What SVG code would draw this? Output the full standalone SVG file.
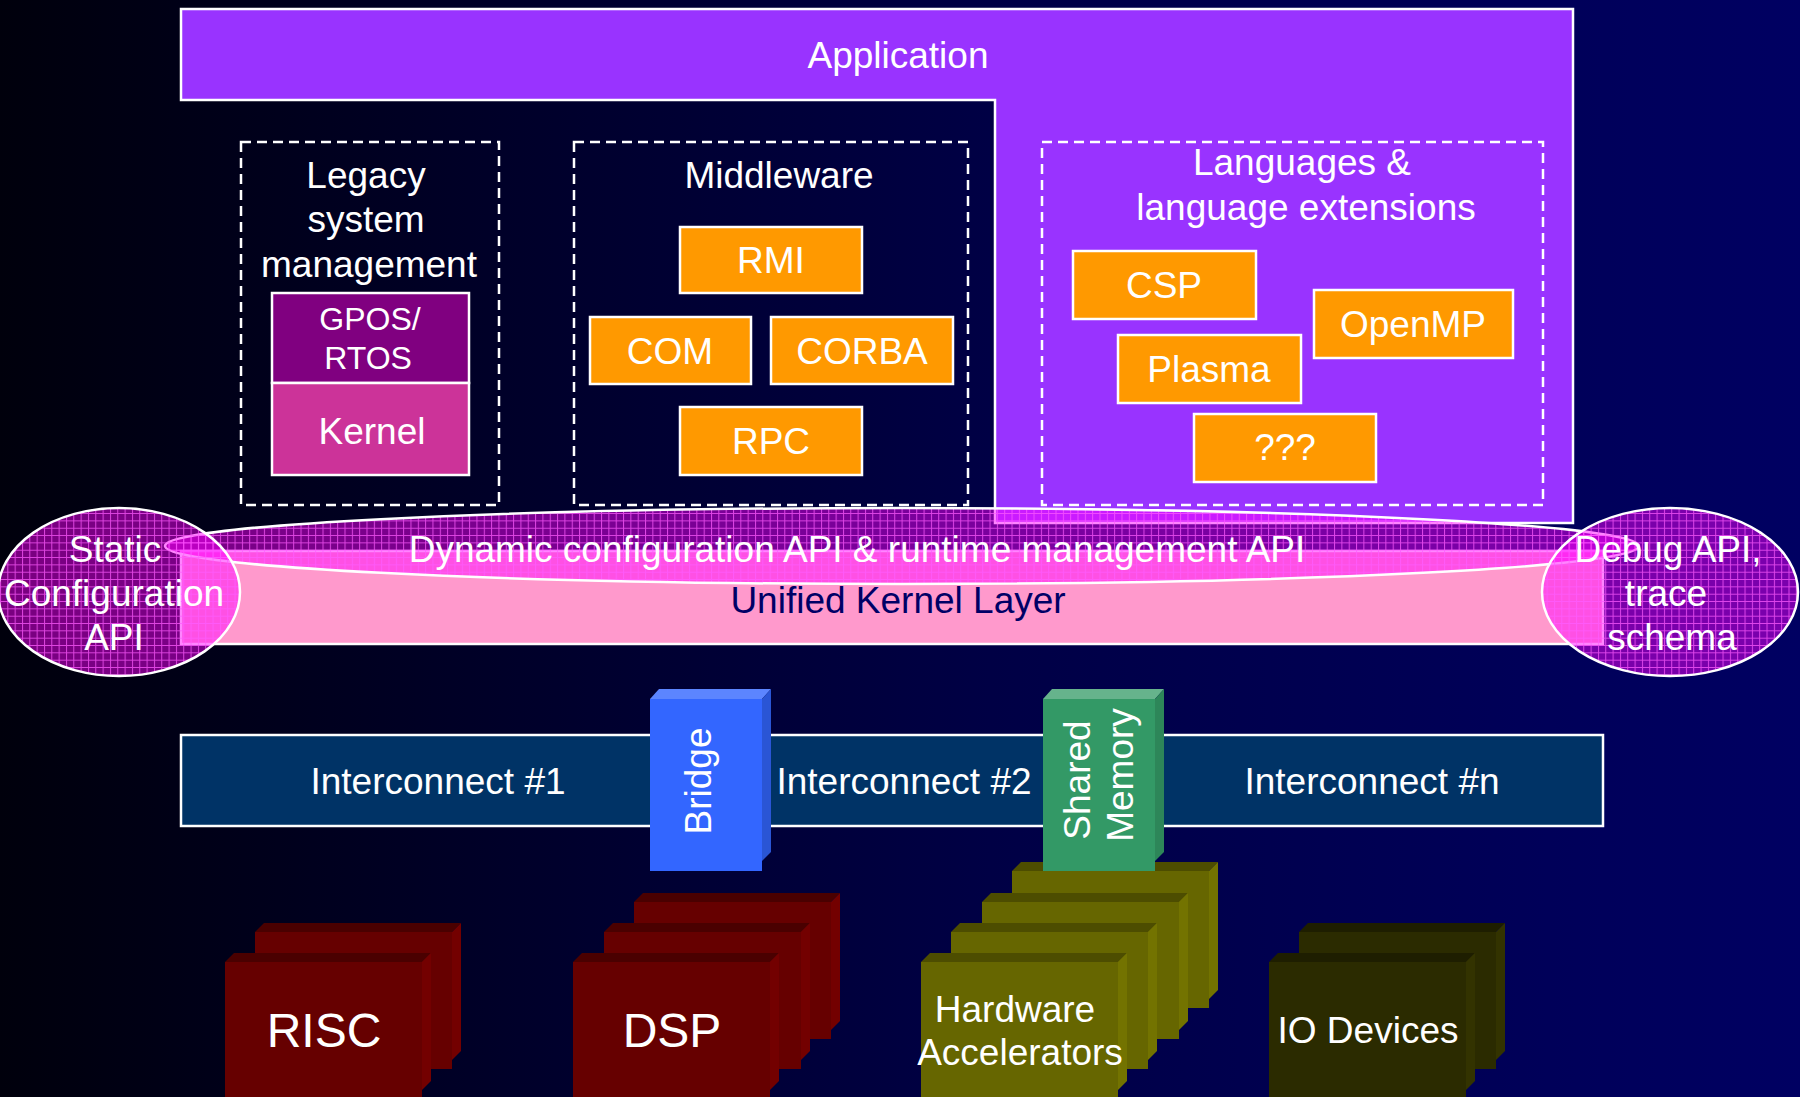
<svg xmlns="http://www.w3.org/2000/svg" width="1800" height="1097" viewBox="0 0 1800 1097">
  <defs>
    <linearGradient id="bg" x1="0" y1="0" x2="1" y2="0">
      <stop offset="0" stop-color="#00000c"/>
      <stop offset="0.55" stop-color="#000045"/>
      <stop offset="1" stop-color="#000062"/>
    </linearGradient>
    <!-- translucent magenta plaid used by the API discs -->
    <pattern id="plaid" width="7.33" height="7.33" patternUnits="userSpaceOnUse">
      <rect width="7.33" height="7.33" fill="#ff00ff" fill-opacity="0.48"/>
      <path d="M0 0.5H7.33M0.5 0V7.33" stroke="#ff5cff" stroke-width="1" stroke-opacity="0.75"/>
    </pattern>
    <style>
      .t { font-family: "Liberation Sans", Arial, sans-serif; font-size: 37px; fill: #ffffff; text-anchor: middle; }
      .sm { font-size: 32px; }
      .big { font-size: 48px; }
      .navy { fill: #000066; }
      .edge { stroke: #ffffff; stroke-width: 2.5; }
      .dash { fill: none; stroke: #ffffff; stroke-width: 2.5; stroke-dasharray: 10 6; }
      .orange { fill: #ff9900; }
      .disc { fill: url(#plaid); stroke: #ffffff; stroke-width: 2.5; }
      .red .f { fill: #660000; } .red .p { fill: #4a0000; } .red .s { fill: #730000; }
      .olive .f { fill: #666600; } .olive .p { fill: #4d4d00; } .olive .s { fill: #737300; }
      .dark .f { fill: #2b2b00; } .dark .p { fill: #1e1e00; } .dark .s { fill: #333300; }
    </style>
  </defs>

  <rect width="1800" height="1097" fill="url(#bg)"/>

  <!-- Application layer (L-shaped) -->
  <g id="application">
    <path class="edge" d="M181 9H1573V523H995V100H181Z" fill="#9933ff"/>
    <text class="t" x="898" y="68">Application</text>
  </g>

  <!-- Legacy system management -->
  <g id="legacy">
    <rect class="dash" x="241" y="142" width="258" height="363"/>
    <text class="t" x="366" y="188">Legacy</text>
    <text class="t" x="366" y="232">system</text>
    <text class="t" x="369" y="277">management</text>
  </g>
  <g id="gpos">
    <rect class="edge" x="272" y="293" width="197" height="90" fill="#800080"/>
    <text class="t sm" x="370" y="330">GPOS/</text>
    <text class="t sm" x="368" y="369">RTOS</text>
  </g>
  <g id="kernel">
    <rect class="edge" x="272" y="383" width="197" height="92" fill="#cc3399"/>
    <text class="t" x="372" y="444">Kernel</text>
  </g>

  <!-- Middleware -->
  <g id="middleware">
    <rect class="dash" x="574" y="142" width="394" height="363"/>
    <text class="t" x="779" y="188">Middleware</text>
  </g>
  <g id="rmi">
    <rect class="edge orange" x="680" y="227" width="182" height="66"/>
    <text class="t" x="771" y="273">RMI</text>
  </g>
  <g id="com">
    <rect class="edge orange" x="590" y="317" width="161" height="67"/>
    <text class="t" x="670" y="364">COM</text>
  </g>
  <g id="corba">
    <rect class="edge orange" x="771" y="317" width="182" height="67"/>
    <text class="t" x="862" y="364">CORBA</text>
  </g>
  <g id="rpc">
    <rect class="edge orange" x="680" y="407" width="182" height="68"/>
    <text class="t" x="771" y="454">RPC</text>
  </g>

  <!-- Languages & language extensions -->
  <g id="languages">
    <rect class="dash" x="1042" y="142" width="501" height="363"/>
    <text class="t" x="1302" y="175">Languages &amp;</text>
    <text class="t" x="1306" y="220">language extensions</text>
  </g>
  <g id="csp">
    <rect class="edge orange" x="1073" y="251" width="183" height="68"/>
    <text class="t" x="1164" y="298">CSP</text>
  </g>
  <g id="openmp">
    <rect class="edge orange" x="1314" y="290" width="199" height="68"/>
    <text class="t" x="1413" y="337">OpenMP</text>
  </g>
  <g id="plasma">
    <rect class="edge orange" x="1118" y="335" width="183" height="68"/>
    <text class="t" x="1209" y="382">Plasma</text>
  </g>
  <g id="unknown">
    <rect class="edge orange" x="1194" y="414" width="182" height="68"/>
    <text class="t" x="1285" y="460">???</text>
  </g>

  <!-- Unified kernel layer with API discs -->
  <g id="unified-kernel">
    <rect class="edge" x="181" y="551" width="1422" height="93" fill="#ff99cc"/>
  </g>
  <g id="dynamic-api">
    <ellipse class="disc" cx="902" cy="546" rx="737" ry="38"/>
  </g>
  <g id="static-api">
    <ellipse class="disc" cx="119" cy="592" rx="121" ry="84"/>
  </g>
  <g id="debug-api">
    <ellipse class="disc" cx="1670" cy="592" rx="128" ry="84"/>
  </g>
  <g id="layer-labels">
    <text class="t" x="857" y="562">Dynamic configuration API &amp; runtime management API</text>
    <text class="t navy" x="898" y="613">Unified Kernel Layer</text>
    <text class="t" x="115" y="562">Static</text>
    <text class="t" x="114" y="606">Configuration</text>
    <text class="t" x="114" y="650">API</text>
    <text class="t" x="1668" y="562">Debug API,</text>
    <text class="t" x="1666" y="606">trace</text>
    <text class="t" x="1672" y="650">schema</text>
  </g>

  <!-- Interconnect bus -->
  <g id="interconnect">
    <rect class="edge" x="181" y="735" width="1422" height="91" fill="#003366"/>
    <text class="t" x="438" y="794">Interconnect #1</text>
    <text class="t" x="904" y="794">Interconnect #2</text>
    <text class="t" x="1372" y="794">Interconnect #n</text>
  </g>

  <!-- Processing elements (stacked blocks) -->
  <g id="risc" class="red">
    <g transform="translate(255,932)"><rect class="f" width="197" height="137"/><path class="p" d="M0 0l9-9h197l-9 9z"/><path class="s" d="M197 0l9-9v128l-9 9z"/></g>
    <g transform="translate(225,962)"><rect class="f" width="197" height="137"/><path class="p" d="M0 0l9-9h197l-9 9z"/><path class="s" d="M197 0l9-9v128l-9 9z"/></g>
    <text class="t big" x="324" y="1047">RISC</text>
  </g>
  <g id="dsp" class="red">
    <g transform="translate(634,902)"><rect class="f" width="197" height="137"/><path class="p" d="M0 0l9-9h197l-9 9z"/><path class="s" d="M197 0l9-9v128l-9 9z"/></g>
    <g transform="translate(604,932)"><rect class="f" width="197" height="137"/><path class="p" d="M0 0l9-9h197l-9 9z"/><path class="s" d="M197 0l9-9v128l-9 9z"/></g>
    <g transform="translate(573,962)"><rect class="f" width="197" height="137"/><path class="p" d="M0 0l9-9h197l-9 9z"/><path class="s" d="M197 0l9-9v128l-9 9z"/></g>
    <text class="t big" x="672" y="1047">DSP</text>
  </g>
  <g id="hw-accelerators" class="olive">
    <g transform="translate(1012,871)"><rect class="f" width="197" height="137"/><path class="p" d="M0 0l9-9h197l-9 9z"/><path class="s" d="M197 0l9-9v128l-9 9z"/></g>
    <g transform="translate(982,902)"><rect class="f" width="197" height="137"/><path class="p" d="M0 0l9-9h197l-9 9z"/><path class="s" d="M197 0l9-9v128l-9 9z"/></g>
    <g transform="translate(951,932)"><rect class="f" width="197" height="137"/><path class="p" d="M0 0l9-9h197l-9 9z"/><path class="s" d="M197 0l9-9v128l-9 9z"/></g>
    <g transform="translate(921,962)"><rect class="f" width="197" height="137"/><path class="p" d="M0 0l9-9h197l-9 9z"/><path class="s" d="M197 0l9-9v128l-9 9z"/></g>
    <text class="t" x="1015" y="1022">Hardware</text>
    <text class="t" x="1020" y="1065">Accelerators</text>
  </g>
  <g id="io-devices" class="dark">
    <g transform="translate(1299,932)"><rect class="f" width="197" height="137"/><path class="p" d="M0 0l9-9h197l-9 9z"/><path class="s" d="M197 0l9-9v128l-9 9z"/></g>
    <g transform="translate(1269,962)"><rect class="f" width="197" height="137"/><path class="p" d="M0 0l9-9h197l-9 9z"/><path class="s" d="M197 0l9-9v128l-9 9z"/></g>
    <text class="t" x="1368" y="1043">IO Devices</text>
  </g>

  <!-- Bridge and shared memory sitting on the bus -->
  <g id="bridge">
    <rect x="650" y="699" width="112" height="172" fill="#3366ff"/>
    <path d="M650 699l9-10h112l-9 10z" fill="#5c85ff"/>
    <path d="M762 699l9-10v163l-9 9z" fill="#2a55d5"/>
    <text class="t" transform="translate(711,781) rotate(-90)">Bridge</text>
  </g>
  <g id="shared-memory">
    <rect x="1043" y="699" width="112" height="172" fill="#339966"/>
    <path d="M1043 699l9-10h112l-9 10z" fill="#66b38c"/>
    <path d="M1155 699l9-10v163l-9 9z" fill="#2d8659"/>
    <text class="t" transform="translate(1090,780) rotate(-90)">Shared</text>
    <text class="t" transform="translate(1133,775) rotate(-90)">Memory</text>
  </g>

  <g id="connectors"/>
</svg>
